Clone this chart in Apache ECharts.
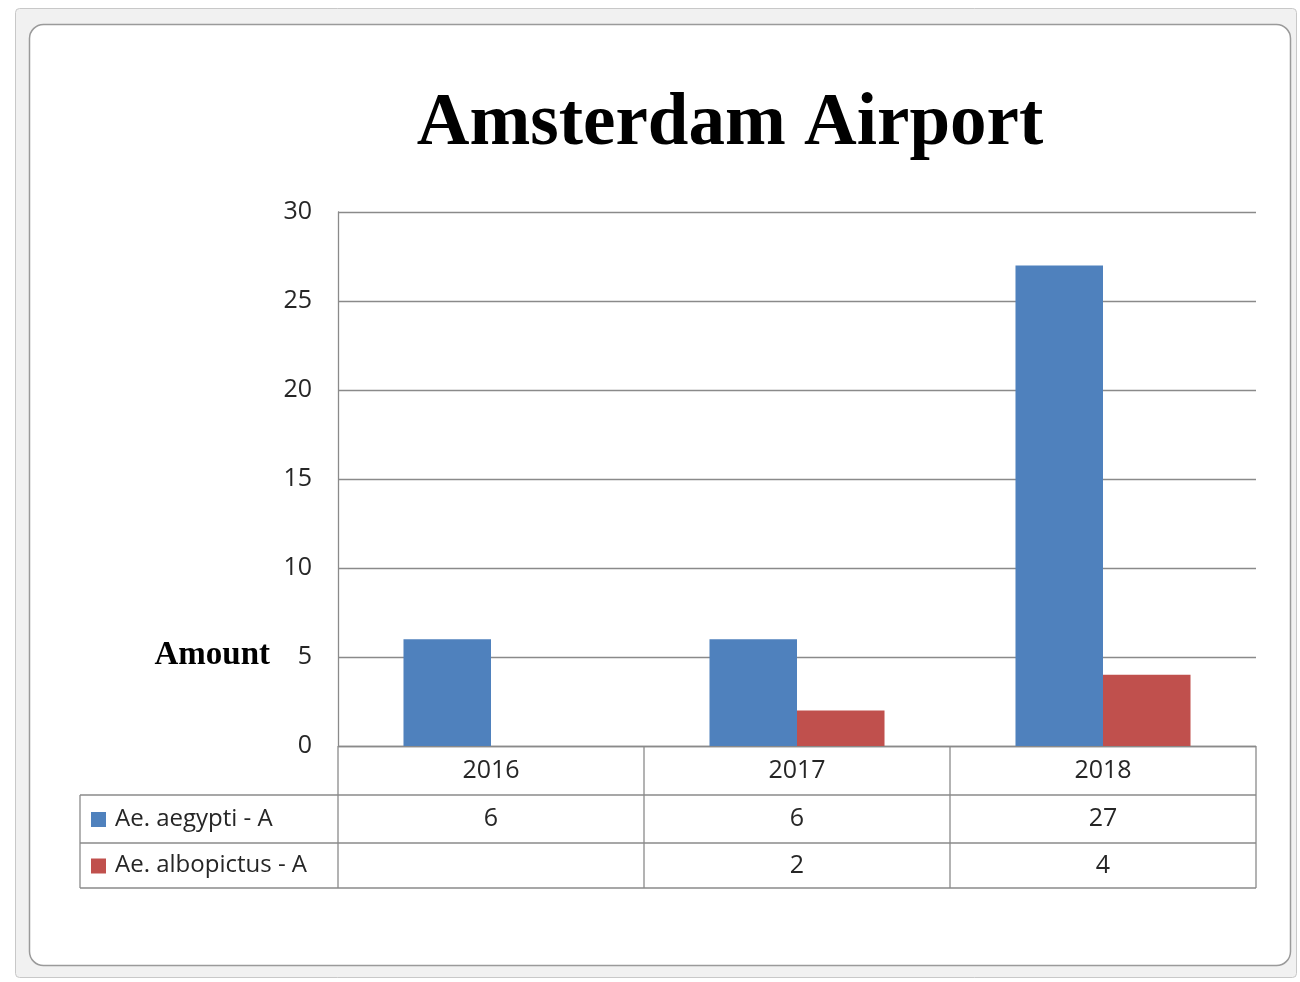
<!DOCTYPE html>
<html>
<head>
<meta charset="utf-8">
<script src="https://cdn.jsdelivr.net/npm/echarts@6/dist/echarts.min.js"></script>
<style>
html,body{margin:0;padding:0;background:#fff;}
#c{width:1300px;height:982px;}
</style>
</head>
<body>
<div id="c"></div>
<script>
const years = ['2016', '2017', '2018'];
const seriesNames = ['Ae. aegypti - A', 'Ae. albopictus - A'];
const aegypti = [6, 6, 27];
const albopictus = [null, 2, 4];
const yTicks = [0, 5, 10, 15, 20, 25, 30];

const colors = ['#4F81BD', '#C0504D'];
const W = 1300, H = 982;
const gL = 338, gR = 1256, gT = 212, gB = 746;
const rowH = [49, 48, 45];
const tableLeft = 80;
const labelFont = '"Open Sans", "Liberation Sans", sans-serif';
const textColor = '#262626';
const lineColor = '#8a8a8a';

const chart = echarts.init(document.getElementById('c'), null, {renderer: 'canvas'});

const seriesData = [aegypti, albopictus];

const graphics = [];
graphics.push({type: 'rect', z: -10, silent: true,
  shape: {x: 15.5, y: 8.5, width: 1281, height: 969, r: 4},
  style: {fill: '#f1f1f1', stroke: '#c8c8c8', lineWidth: 1}});
graphics.push({type: 'rect', z: -9, silent: true,
  shape: {x: 29.5, y: 24.5, width: 1261, height: 941, r: 14},
  style: {fill: '#ffffff', stroke: '#9a9a9a', lineWidth: 1.5}});

const colW = (gR - gL) / years.length;
const y1 = gB + rowH[0];
const y2 = y1 + rowH[1];
const y3 = y2 + rowH[2];
graphics.push({type: 'line', silent: true, shape: {x1: gL, y1: gB + 0.5, x2: gR, y2: gB + 0.5}, style: {stroke: lineColor, lineWidth: 1.3}});
graphics.push({type: 'line', silent: true, shape: {x1: tableLeft, y1: y1, x2: gR, y2: y1}, style: {stroke: lineColor, lineWidth: 1.3}});
graphics.push({type: 'line', silent: true, shape: {x1: tableLeft, y1: y2, x2: gR, y2: y2}, style: {stroke: lineColor, lineWidth: 1.3}});
graphics.push({type: 'line', silent: true, shape: {x1: tableLeft, y1: y3, x2: gR, y2: y3}, style: {stroke: lineColor, lineWidth: 1.3}});
graphics.push({type: 'line', silent: true, shape: {x1: tableLeft, y1: y1, x2: tableLeft, y2: y3}, style: {stroke: lineColor, lineWidth: 1.3}});
for (let i = 0; i <= years.length; i++) {
  const x = gL + colW * i;
  graphics.push({type: 'line', silent: true, shape: {x1: x, y1: gB, x2: x, y2: y3}, style: {stroke: lineColor, lineWidth: 1.3}});
}
years.forEach((yr, i) => {
  graphics.push({type: 'text', silent: true, x: gL + colW * (i + 0.5), y: gB + rowH[0] / 2,
    style: {text: yr, font: '25px ' + labelFont, fill: textColor, align: 'center', verticalAlign: 'middle'}});
});
const rowYs = [y1, y2];
seriesNames.forEach((name, s) => {
  const cy = rowYs[s] + rowH[s + 1] / 2;
  graphics.push({type: 'rect', silent: true, shape: {x: 91, y: cy - 7, width: 15, height: 15}, style: {fill: colors[s]}});
  graphics.push({type: 'text', silent: true, x: 115, y: cy,
    style: {text: name, font: '24px ' + labelFont, fill: textColor, align: 'left', verticalAlign: 'middle'}});
  seriesData[s].forEach((v, i) => {
    if (v === null || v === undefined) return;
    graphics.push({type: 'text', silent: true, x: gL + colW * (i + 0.5), y: cy,
      style: {text: String(v), font: '25px ' + labelFont, fill: textColor, align: 'center', verticalAlign: 'middle'}});
  });
});
graphics.push({type: 'text', silent: true, x: 270, y: 655,
  style: {text: 'Amount', font: 'bold 33px "Liberation Serif", "Times New Roman", serif', fill: '#000', align: 'right', verticalAlign: 'middle'}});

chart.setOption({
  animation: false,
  backgroundColor: '#ffffff',
  title: {
    text: 'Amsterdam Airport',
    left: 725, top: 84, textAlign: 'center',
    textStyle: {fontFamily: '"Liberation Serif", "Times New Roman", serif', fontWeight: 'bold', fontSize: 73, color: '#000'}
  },
  grid: {left: gL, right: W - gR, top: gT, bottom: H - gB, containLabel: false},
  xAxis: {
    type: 'category', data: years,
    axisLine: {show: false},
    axisTick: {show: false},
    axisLabel: {show: false}
  },
  yAxis: {
    type: 'value', min: yTicks[0], max: yTicks[yTicks.length - 1], interval: 5,
    axisLine: {show: true, lineStyle: {color: lineColor, width: 1.3}},
    axisTick: {show: false},
    axisLabel: {fontFamily: labelFont, fontSize: 25, color: textColor, margin: 26},
    splitLine: {show: true, lineStyle: {color: lineColor, width: 1.3}}
  },
  series: [
    {name: seriesNames[0], type: 'bar', data: aegypti, barWidth: '28.6%', barGap: '0%', itemStyle: {color: colors[0]}},
    {name: seriesNames[1], type: 'bar', data: albopictus, barWidth: '28.6%', itemStyle: {color: colors[1]}}
  ],
  graphic: graphics
});
</script>
</body>
</html>
